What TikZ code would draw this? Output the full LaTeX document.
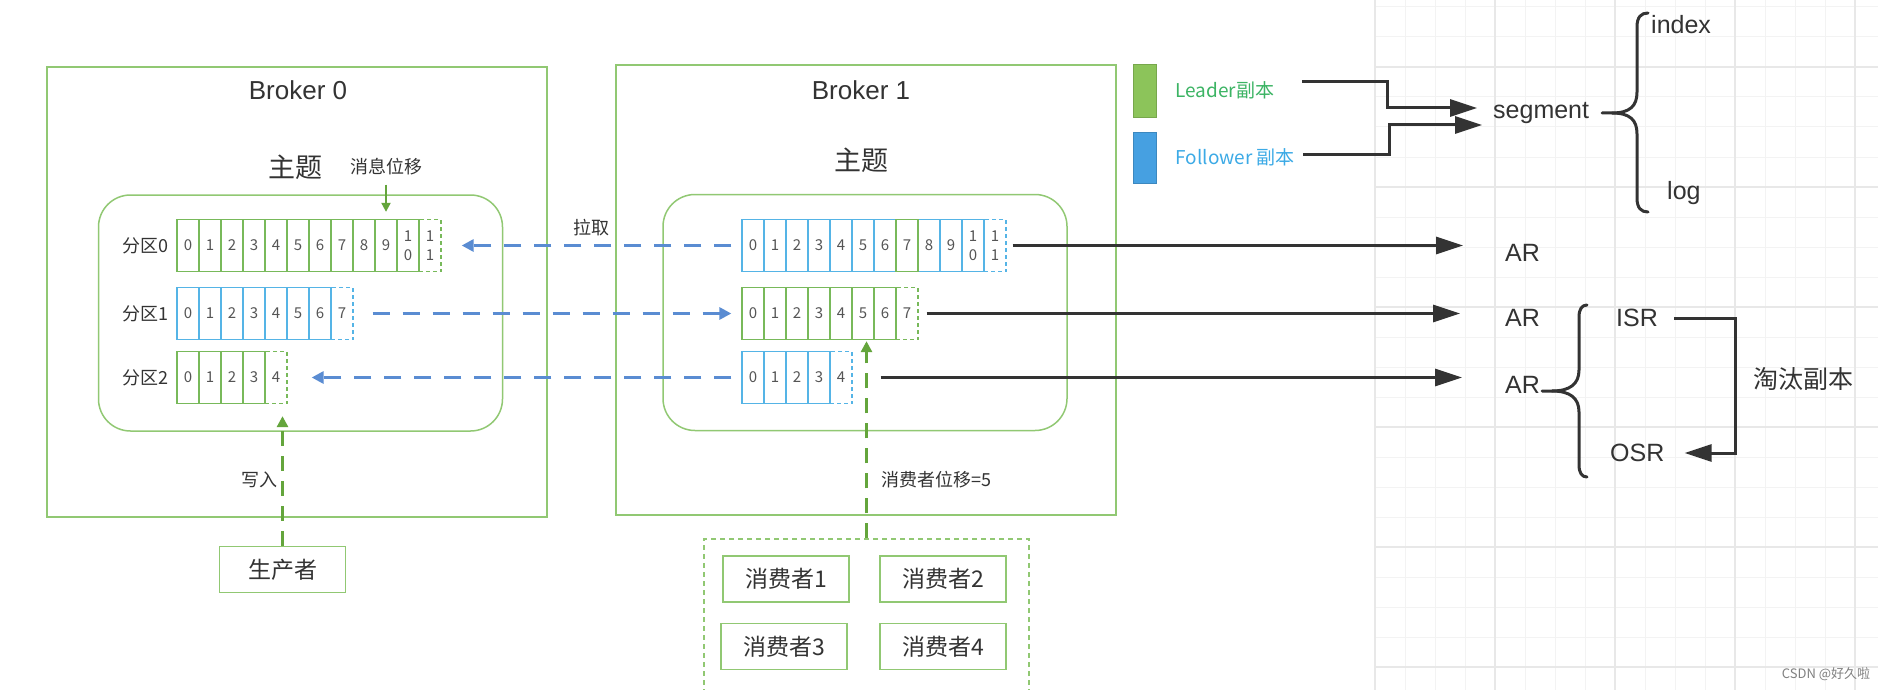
\documentclass[tikz,border=0pt]{standalone}
\usepackage{fontspec}
\setmainfont{Noto Sans CJK SC}
\newfontfamily\arialfont{Liberation Sans}
\usetikzlibrary{arrows.meta, positioning}
\definecolor{boxgreen}{RGB}{145,200,115}
\definecolor{cellgreen}{RGB}{120,185,90}
\definecolor{cellblue}{RGB}{85,180,230}
\definecolor{pullblue}{RGB}{90,140,210}
\definecolor{feedgreen}{RGB}{100,165,60}
\definecolor{legendgreen}{RGB}{140,196,90}
\definecolor{legendblue}{RGB}{70,160,225}
\definecolor{leadertext}{RGB}{60,180,100}
\definecolor{followertext}{RGB}{60,170,230}
\definecolor{darkline}{RGB}{51,51,51}
\definecolor{textgray}{RGB}{85,85,85}
\definecolor{gridthin}{RGB}{243,243,243}
\definecolor{gridthick}{RGB}{232,232,232}

\begin{document}
\begin{tikzpicture}[x=1pt, y=-1pt,
    every node/.style={inner sep=0pt, text=darkline},
    broker/.style={draw=boxgreen, line width=1.5pt, minimum width=500pt, minimum height=450pt},
    topic/.style={draw=boxgreen, line width=1.5pt, rounded corners=32pt, minimum width=404pt, minimum height=236pt},
    gcell/.style={draw=cellgreen, line width=1.3pt, minimum width=22pt, minimum height=52pt, align=center, text=textgray, font=\fontsize{15}{19}\selectfont},
    bcell/.style={gcell, draw=cellblue},
    opencell/.style={dash pattern=on 4pt off 3pt},
    title/.style={font=\arialfont\fontsize{26}{30}\selectfont},
    topicname/.style={font=\fontsize{27}{30}\selectfont},
    small/.style={font=\fontsize{18}{22}\selectfont},
    actor/.style={draw=boxgreen, line width=1.5pt, minimum width=126pt, minimum height=46pt, font=\fontsize{23}{26}\selectfont},
    group/.style={draw=boxgreen, line width=1.5pt, dash pattern=on 5pt off 4pt},
    pull/.style={draw=pullblue, line width=3.5pt, dash pattern=on 17pt off 13pt, arrows={-Triangle[length=12pt, width=12pt]}},
    feed/.style={draw=feedgreen, line width=3pt, dash pattern=on 15pt off 10pt, arrows={-Triangle[length=11pt, width=11pt]}},
    dark/.style={draw=darkline, line width=3pt, arrows={-Triangle[length=27pt, width=17pt]}},
    brace/.style={draw=darkline, line width=3pt, line cap=round},
    side/.style={font=\arialfont\fontsize{25}{28}\selectfont}]
    \useasboundingbox (0,0) rectangle (1878,690);
    \fill[white] (0,0) rectangle (1878,690);

    % grid paper on the right
    \foreach \x in {0,...,16}
        \draw[gridthin, line width=1pt] ({1375+30*\x},0) -- ({1375+30*\x},690);
    \foreach \y in {0,...,22}
        \draw[gridthin, line width=1pt] (1375,{7+30*\y}) -- (1878,{7+30*\y});
    \foreach \x in {0,...,4}
        \draw[gridthick, line width=1.8pt] ({1375+120*\x},0) -- ({1375+120*\x},690);
    \foreach \y in {0,...,5}
        \draw[gridthick, line width=1.8pt] (1375,{67+120*\y}) -- (1878,{67+120*\y});

    % Broker 0
    \node[broker] (b0) at (297,292) {};
    \node[title] (b0name) at (298,90) {Broker 0};
    \node[topicname] (b0topic) at (295,167) {主题};
    \node[topic] (b0box) at (300.5,313) {};
    \node[small] (msgoff) at (386,167) {消息位移};
    \foreach \i in {0,...,9}
        \node[gcell] (b0p0-\i) at ({188+22*\i},245.5) {\i};
    \node[gcell] (b0p0-10) at (408,245.5) {1\\0};
    \node[gcell, opencell] (b0p0-11) at (430,245.5) {1\\1};
    \foreach \i in {0,...,6}
        \node[bcell] (b0p1-\i) at ({188+22*\i},313.5) {\i};
    \node[bcell, opencell] (b0p1-7) at (342,313.5) {7};
    \foreach \i in {0,...,3}
        \node[gcell] (b0p2-\i) at ({188+22*\i},377.5) {\i};
    \node[gcell, opencell] (b0p2-4) at (276,377.5) {4};
    \node[small, left=8pt of b0p0-0] (b0r0) {分区0};
    \node[small, left=8pt of b0p1-0] (b0r1) {分区1};
    \node[small, left=8pt of b0p2-0] (b0r2) {分区2};

    % Broker 1
    \node[broker] (b1) at (866,290) {};
    \node[title] (b1name) at (861,90) {Broker 1};
    \node[topicname] (b1topic) at (861,160) {主题};
    \node[topic] (b1box) at (865,312.5) {};
    \foreach \i in {0,...,6,8,9}
        \node[bcell] (b1p0-\i) at ({753+22*\i},245.5) {\i};
    \node[gcell] (b1p0-7) at (907,245.5) {7};
    \node[bcell] (b1p0-10) at (973,245.5) {1\\0};
    \node[bcell, opencell] (b1p0-11) at (995,245.5) {1\\1};
    \foreach \i in {0,...,6}
        \node[gcell] (b1p1-\i) at ({753+22*\i},313.5) {\i};
    \node[gcell, opencell] (b1p1-7) at (907,313.5) {7};
    \foreach \i in {0,...,3}
        \node[bcell] (b1p2-\i) at ({753+22*\i},377.5) {\i};
    \node[bcell, opencell] (b1p2-4) at (841,377.5) {4};

    % replication between brokers
    \draw[pull, shorten >=20pt, shorten <=10pt] (b1p0-0.west) -- (b0p0-11.east)
        node[small, midway, above=8pt] (pulltxt) {拉取};
    \draw[pull, shorten <=19pt, shorten >=10pt] (b0p1-7.east) -- (b1p1-0.west);
    \draw[pull, shorten >=24pt, shorten <=10pt] (b1p2-0.west) -- (b0p2-4.east);
    \draw[feed, line width=2pt, dash pattern=on 30pt off 0pt, shorten <=9pt, shorten >=7pt,
        arrows={-Triangle[length=9pt, width=9pt]}] (msgoff.south) -- (b0p0-9.north);

    % producer and consumers
    \node[actor] (producer) at (282.5,569.5) {生产者};
    \draw[feed, shorten >=12pt] (producer.north) -- (producer.north |- b0p2-4.south);
    \node[small, anchor=east] (writetxt) at (278,480) {写入};
    \node[group, minimum width=325pt, minimum height=190pt] (consumers) at (866.5,634) {};
    \node[actor] (c1) at (786,579) {消费者1};
    \node[actor] (c2) at (943,579) {消费者2};
    \node[actor] (c3) at (784,646.5) {消费者3};
    \node[actor] (c4) at (943,646.5) {消费者4};
    \draw[feed, shorten >=1pt] (consumers.north) -- (consumers.north |- b1p1-5.south);
    \node[small, anchor=west] (offtxt) at (881,480) {消费者位移=5};

    % legend
    \node[draw=legendgreen!85!black, line width=0.8pt, fill=legendgreen, minimum width=23pt, minimum height=53pt] (legl) at (1144.5,90.5) {};
    \node[draw=legendblue!85!black, line width=0.8pt, fill=legendblue, minimum width=23pt, minimum height=51pt] (legf) at (1144.5,157.5) {};
    \node[right=19pt of legl, text=leadertext, font=\fontsize{19}{22}\selectfont] (leadtxt) {Leader副本};
    \node[right=19pt of legf, text=followertext, font=\fontsize{19}{22}\selectfont] (folltxt) {Follower 副本};

    % segment
    \node[side, anchor=west] (seg) at (1493,113) {segment};
    \node[side, anchor=west] (idx) at (1651,25) {index};
    \node[side, anchor=west] (logf) at (1667,193) {log};
    \coordinate (lead0) at (1302,82);
    \coordinate (foll0) at (1303,154);
    \coordinate (bendl) at (1387,0);
    \coordinate (bendf) at (1389,0);
    \draw[dark, shorten >=16pt] (lead0) -- (lead0 -| bendl) |- ([yshift=5pt]seg.west);
    \draw[dark, shorten >=11pt] (foll0) -- (foll0 -| bendf) |- ([yshift=-12pt]seg.west);
    \draw[brace] (1648,13) .. controls (1641,13) and (1637,17) .. (1637,27) -- (1637,92)
        .. controls (1637,106) and (1630,113) .. (1612,113) -- (1602,113);
    \draw[brace] (1612,113) .. controls (1630,113) and (1637,120) .. (1637,134) -- (1637,198)
        .. controls (1637,208) and (1641,212) .. (1648,212);

    % AR / ISR / OSR
    \node[side, anchor=west] (ar0) at (1505,253) {AR};
    \node[side, anchor=west] (ar1) at (1505,318) {AR};
    \node[side, anchor=west] (ar2) at (1505,385) {AR};
    \draw[dark, shorten <=6pt, shorten >=42pt] (b1p0-11.east) -- (b1p0-11.east -| ar0.west);
    \draw[dark, shorten <=8pt, shorten >=45pt] (b1p1-7.east) -- (b1p1-7.east -| ar1.west);
    \draw[dark, shorten <=28pt, shorten >=43pt] (b1p2-4.east) -- (b1p2-4.east -| ar2.west);
    \node[side, anchor=west] (isr) at (1616,318) {ISR};
    \node[side, anchor=west] (osr) at (1610,453) {OSR};
    \node[anchor=west, font=\fontsize{25}{28}\selectfont] (elim) at (1753,379) {淘汰副本};
    \coordinate (turn) at (1735,0);
    \draw[dark, shorten <=16pt, shorten >=20pt] (isr.east) -- (isr.east -| turn) |- (osr.east);
    \draw[brace] (1587,305) .. controls (1582,305) and (1579,309) .. (1579,317) -- (1579,370)
        .. controls (1579,384) and (1570,391) .. (1552,391) -- (1542,391);
    \draw[brace] (1552,391) .. controls (1570,391) and (1579,398) .. (1579,412) -- (1579,465)
        .. controls (1579,473) and (1582,477) .. (1587,477);

    \node[text=gray, font=\fontsize{13}{15}\selectfont] (mark) at (1826,674) {CSDN @好久啦};
\end{tikzpicture}
\end{document}
